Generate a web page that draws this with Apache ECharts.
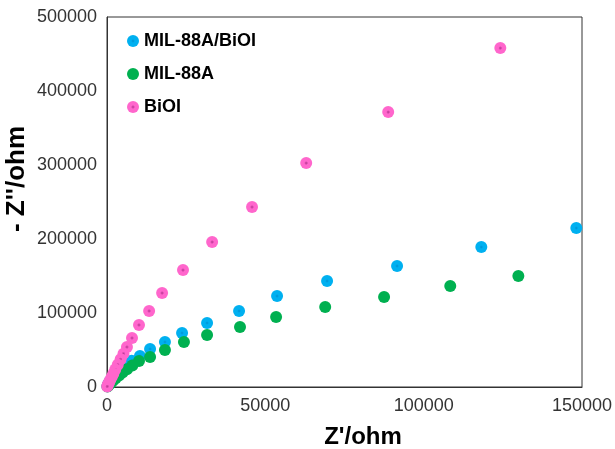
<!DOCTYPE html>
<html>
<head>
<meta charset="utf-8">
<script src="https://cdn.jsdelivr.net/npm/echarts@6/dist/echarts.min.js"></script>
<style>
html,body{margin:0;padding:0;background:#fff;}
#c{width:615px;height:449px;}
</style>
</head>
<body>
<div id="c"></div>
<script>
const seriesNames = ['MIL-88A/BiOI', 'MIL-88A', 'BiOI'];
const xTicks = [0, 50000, 100000, 150000];
const yTicks = [0, 100000, 200000, 300000, 400000, 500000];

// [Z', -Z''] pairs
const milBiOI = [
  [148200,214800],[118200,189100],[91600,163500],[69500,143200],[53700,122900],
  [41700,102700],[31600,86500],[23700,73000],[18300,60800],[13600,51300],
  [10400,41900],[7800,35500],[6000,30000],[4600,25000],[3500,20500],
  [2600,16500],[1900,13000],[1300,10000],[900,7500],[600,5300],
  [400,3500],[250,2000],[150,1000]
];
const mil88A = [
  [129900,150000],[108400,136500],[87500,121600],[68900,108100],[53400,94600],
  [42000,81100],[31600,70300],[24300,60800],[18300,50000],[13600,40500],
  [10100,35100],[8000,29000],[6300,24000],[4900,19500],[3800,15500],
  [2800,12000],[2000,9000],[1400,6500],[900,4500],[550,2800],
  [300,1500],[150,700]
];
const biOI = [
  [124200,458000],[88800,371500],[62900,302600],[45800,243200],[33200,195900],
  [24000,158000],[17400,127000],[13300,102700],[10100,83800],[7900,66200],
  [6300,54000],[5200,45000],[4300,37500],[3400,30000],[2600,23500],
  [2000,18000],[1500,13500],[1000,9500],[650,6500],[400,4000],
  [200,2200],[80,800]
];

function dotColor(inner, mid, outer) {
  return {
    type: 'radial', x: 0.5, y: 0.5, r: 0.5,
    colorStops: [
      {offset: 0, color: inner},
      {offset: 0.22, color: mid},
      {offset: 0.32, color: outer},
      {offset: 1, color: outer}
    ]
  };
}
const colors = [
  dotColor('#0090D0', '#00A6E8', '#00B0F0'),
  dotColor('#00B050', '#00B050', '#00B050'),
  dotColor('#B8368F', '#E050B5', '#FF66CC')
];
const datasets = [milBiOI, mil88A, biOI];

const chart = echarts.init(document.getElementById('c'), null, {renderer: 'canvas'});
const FONT = '"Liberation Sans", Arial, sans-serif';
const plain = v => String(v);

chart.setOption({
  animation: false,
  backgroundColor: '#ffffff',
  grid: {
    left: 107, right: 33, top: 17, bottom: 62,
    containLabel: false, outerBoundsMode: 'none',
    show: true, borderColor: '#333', borderWidth: 1, backgroundColor: 'transparent'
  },
  legend: {
    data: seriesNames,
    orient: 'vertical',
    left: 122, top: 26,
    itemWidth: 12, itemHeight: 12, itemGap: 13,
    icon: 'circle',
    textStyle: {fontFamily: FONT, fontSize: 18, fontWeight: 'bold', color: '#000', lineHeight: 20}
  },
  xAxis: {
    type: 'value',
    min: xTicks[0], max: xTicks[xTicks.length - 1], interval: xTicks[1] - xTicks[0],
    splitLine: {show: false},
    axisTick: {show: false},
    axisLine: {show: true, lineStyle: {color: '#333', width: 1}},
    axisLabel: {fontFamily: FONT, fontSize: 18, color: '#333', margin: 10, formatter: plain},
    name: "Z'/ohm",
    nameLocation: 'middle',
    nameGap: 38,
    nameTextStyle: {fontFamily: FONT, fontSize: 24, fontWeight: 'bold', color: '#000', padding: [0, 0, 0, 37]}
  },
  yAxis: {
    type: 'value',
    min: yTicks[0], max: yTicks[yTicks.length - 1], interval: yTicks[1] - yTicks[0],
    splitLine: {show: false},
    axisTick: {show: false},
    axisLine: {show: true, lineStyle: {color: '#333', width: 1}},
    axisLabel: {fontFamily: FONT, fontSize: 18, color: '#333', margin: 10, formatter: plain},
    name: "- Z''/ohm",
    nameLocation: 'middle',
    nameGap: 77,
    nameMoveOverlap: false,
    nameTextStyle: {fontFamily: FONT, fontSize: 26, fontWeight: 'bold', color: '#000', padding: [0, 0, 0, 46]}
  },
  series: seriesNames.map((n, i) => ({
    name: n,
    type: 'scatter',
    symbol: 'circle',
    symbolSize: 12,
    data: datasets[i],
    itemStyle: {color: colors[i], opacity: 1}
  }))
});
</script>
</body>
</html>
